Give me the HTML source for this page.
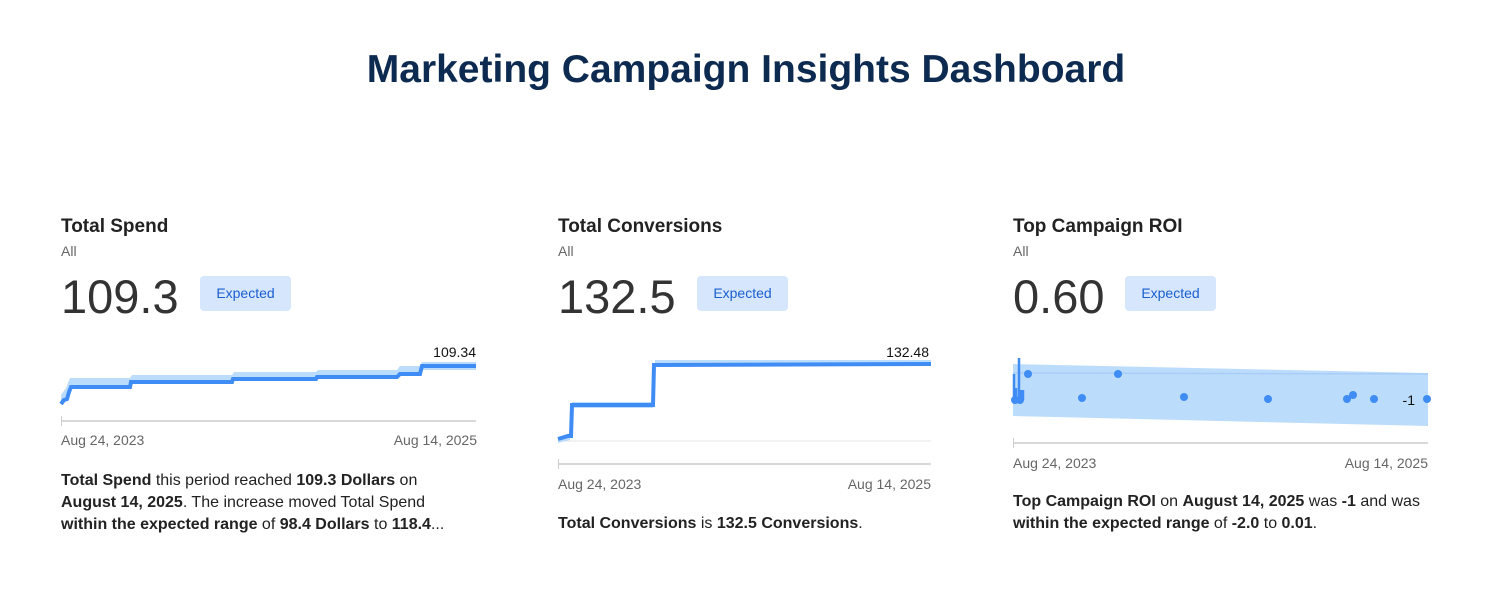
<!DOCTYPE html>
<html><head><meta charset="utf-8"><style>
body{margin:0;width:1492px;height:591px;background:#fff;font-family:"Liberation Sans","DejaVu Sans",sans-serif;position:relative;overflow:hidden;color:#222}
.a{position:absolute;white-space:nowrap}
h1{position:absolute;left:0;width:1492px;top:48px;margin:0;text-align:center;font-size:39px;font-weight:bold;color:#0d2a50}
.t{font-size:19px;color:#222;font-weight:600}
.s{font-size:14px;color:#666}
.n{font-size:47px;color:#333}
.b{background:#d6e6fd;color:#1a5fd0;font-size:14px;border-radius:4px;width:91px;height:35px;line-height:35px;text-align:center}
.d{font-size:14px;color:#666}
.p{font-size:16px;line-height:22px;color:#222}
</style></head><body>
<h1>Marketing Campaign Insights Dashboard</h1>

<div class="a t" style="left:61px;top:216px">Total Spend</div>
<div class="a s" style="left:61px;top:243px">All</div>
<div class="a n" style="left:61px;top:269px">109.3</div>
<div class="a b" style="left:200px;top:276px">Expected</div>

<div class="a t" style="left:558px;top:216px">Total Conversions</div>
<div class="a s" style="left:558px;top:243px">All</div>
<div class="a n" style="left:558px;top:269px">132.5</div>
<div class="a b" style="left:697px;top:276px">Expected</div>

<div class="a t" style="left:1013px;top:216px">Top Campaign ROI</div>
<div class="a s" style="left:1013px;top:243px">All</div>
<div class="a n" style="left:1013px;top:269px">0.60</div>
<div class="a b" style="left:1125px;top:276px">Expected</div>

<svg class="a" style="left:0;top:0" width="1492" height="591">
<path d="M61,395 L66,388 L70,378 L130,378 L132,375 L232,375 L234,372 L316,372 L318,370 L397,370 L400,366 L420,366 L422,362 L476,362 L476,370 L422,370 L420,373 L400,373 L397,376 L318,376 L316,379 L234,379 L232,382 L132,382 L130,385 L72,385 L66,396 L61,402Z" fill="#bcdcfb"/>
<path d="M61,404 L64,400 L67,399 L69,392 L71,387 L130,387 L131,382 L232,382 L233,379 L316,379 L317,377 L397,377 L400,374 L420,374 L422,366 L476,366" fill="none" stroke="#3f8cf5" stroke-width="4"/>
<line x1="61" y1="421" x2="476" y2="421" stroke="#ccc" stroke-width="1.5"/><line x1="61.5" y1="416" x2="61.5" y2="426" stroke="#ccc"/>
<text x="476" y="357" font-size="14" text-anchor="end" fill="#111">109.34</text>
<line x1="558" y1="441" x2="931" y2="441" stroke="#e5e5e5"/>
<path d="M558,437 L570,433 L572,402 L653,402 L655,360 L931,360 L931,366 L655,366 L653,408 L572,408 L570,440 L558,443Z" fill="#bcdcfb"/>
<path d="M558,439 L568,436 L571,436 L572,405 L653,405 L654,365 L931,364" fill="none" stroke="#3f8cf5" stroke-width="4"/>
<line x1="558" y1="464" x2="931" y2="464" stroke="#ccc" stroke-width="1.5"/><line x1="558.5" y1="459" x2="558.5" y2="469" stroke="#ccc"/>
<text x="929" y="357" font-size="14" text-anchor="end" fill="#111">132.48</text>
<path d="M1013,364 L1428,373 L1428,426 L1013,416Z" fill="#bcdcfb"/>
<line x1="1013" y1="373" x2="1428" y2="374" stroke="#a9cdf7" stroke-width="1.5"/>
<path d="M1014,400 L1014,374 M1016,400 L1016,388 M1019,400 L1019,358 M1021,400 L1021,390 M1023,400 L1023,390" stroke="#3f8cf5" stroke-width="2.5"/>
<g fill="#3f8cf5">
<circle cx="1015" cy="400" r="4"/><circle cx="1020" cy="400" r="4"/><circle cx="1028" cy="374" r="4"/>
<circle cx="1082" cy="398" r="4"/><circle cx="1118" cy="374" r="4"/><circle cx="1184" cy="397" r="4"/>
<circle cx="1268" cy="399" r="4"/><circle cx="1347" cy="399" r="4"/><circle cx="1353" cy="395" r="4"/>
<circle cx="1374" cy="399" r="4"/><circle cx="1427" cy="399" r="4"/>
</g>
<text x="1415" y="405" font-size="14" text-anchor="end" fill="#111">-1</text>
<line x1="1013" y1="443" x2="1428" y2="443" stroke="#ccc" stroke-width="1.5"/><line x1="1013.5" y1="438" x2="1013.5" y2="448" stroke="#ccc"/>
</svg>

<div class="a d" style="left:61px;top:432px">Aug 24, 2023</div>
<div class="a d" style="left:388px;top:432px;width:89px;text-align:right">Aug 14, 2025</div>
<div class="a d" style="left:558px;top:476px">Aug 24, 2023</div>
<div class="a d" style="left:842px;top:476px;width:89px;text-align:right">Aug 14, 2025</div>
<div class="a d" style="left:1013px;top:455px">Aug 24, 2023</div>
<div class="a d" style="left:1339px;top:455px;width:89px;text-align:right">Aug 14, 2025</div>

<div class="a p" style="left:61px;top:470px"><b>Total Spend</b> this period reached <b>109.3 Dollars</b> on<br><b>August 14, 2025</b>. The increase moved Total Spend<br><b>within the expected range</b> of <b>98.4 Dollars</b> to <b>118.4</b>...</div>
<div class="a p" style="left:558px;top:513px"><b>Total Conversions</b> is <b>132.5 Conversions</b>.</div>
<div class="a p" style="left:1013px;top:491px"><b>Top Campaign ROI</b> on <b>August 14, 2025</b> was <b>-1</b> and was<br><b>within the expected range</b> of <b>-2.0</b> to <b>0.01</b>.</div>
</body></html>
